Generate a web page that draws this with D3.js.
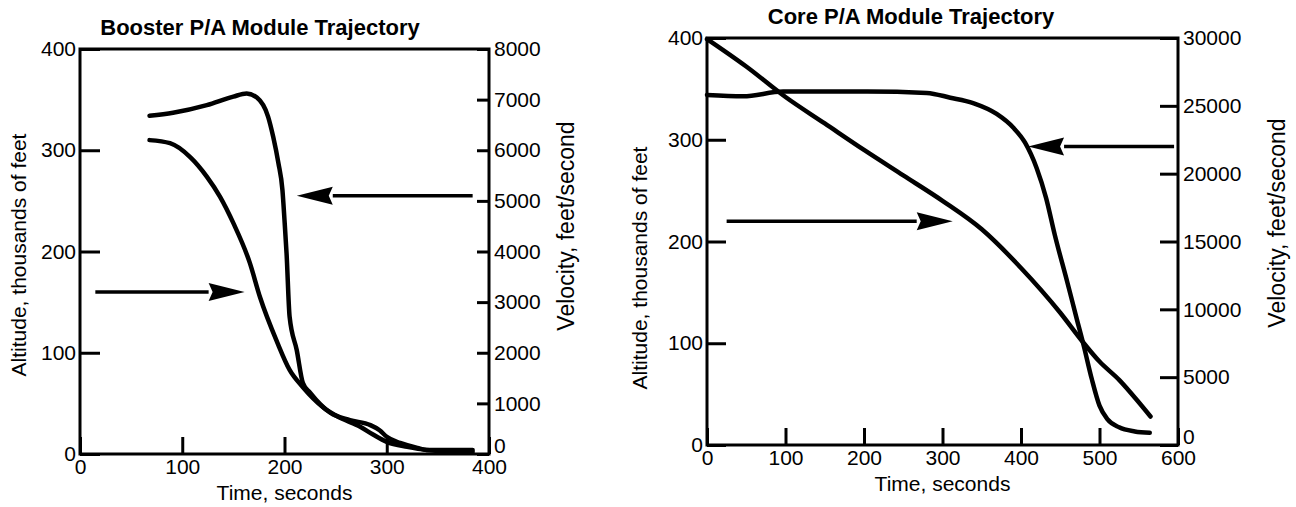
<!DOCTYPE html>
<html>
<head>
<meta charset="utf-8">
<script src="https://cdn.jsdelivr.net/npm/d3@7"></script>
<style>
  body { margin: 0; background: #fff; }
  svg text { font-family: "Liberation Sans", Arial, Helvetica, sans-serif; fill: #000; }
</style>
</head>
<body>
<div id="viz"></div>
<script>
// Booster P/A module (left panel)
const boosterAltTime = [68, 88, 108, 124, 137, 150, 166, 176, 193, 205, 218, 238, 254, 274, 287, 300, 320, 339, 384];
const boosterAltitude = [310, 307, 293, 274, 254, 228, 189, 155, 110, 83, 66, 46, 36, 27, 19, 12, 7, 4, 2];
const boosterVelTime = [68, 91, 124, 150, 163, 173, 184, 189, 194, 198, 200, 202, 205, 212, 218, 225, 245, 264, 284, 293, 300, 313, 330, 339, 384];
const boosterVelocity = [6680, 6740, 6890, 7060, 7120, 7040, 6660, 6260, 5750, 5210, 4620, 3970, 2710, 2050, 1400, 1210, 810, 670, 570, 470, 340, 220, 120, 80, 80];

// Core P/A module (right panel)
const coreAltTime = [0, 50, 100, 150, 200, 250, 300, 350, 400, 450, 478, 500, 525, 550, 565];
const coreAltitude = [399, 372, 342, 316, 290, 265, 240, 212, 174, 130, 102, 82, 64, 42, 28];
const coreVelTime = [0, 46, 97, 204, 280, 310, 339, 369, 390, 405, 420, 432, 443, 459, 471, 480, 490, 500, 510, 525, 545, 564];
const coreVelocity = [25800, 25700, 26050, 26050, 25950, 25600, 25200, 24400, 23400, 22300, 20400, 18200, 15500, 12000, 9300, 7300, 4900, 2900, 1900, 1300, 1000, 900];

// tick values
const boosterTimeTicks = [0, 100, 200, 300, 400];
const boosterAltTicks = [0, 100, 200, 300, 400];
const boosterVelTicks = [0, 1000, 2000, 3000, 4000, 5000, 6000, 7000, 8000];
const coreTimeTicks = [0, 100, 200, 300, 400, 500, 600];
const coreAltTicks = [0, 100, 200, 300, 400];
const coreVelTicks = [0, 5000, 10000, 15000, 20000, 25000, 30000];

// arrows: [time from, time to, value, axis]
const boosterArrows = [[15, 161, 160, 'alt'], [384, 212, 5100, 'vel']];
const coreArrows = [[25, 313, 220, 'alt'], [595, 409, 22000, 'vel']];

const width = 1296;
const height = 507;

const svg = d3.select('#viz')
    .append('svg')
    .attr('width', width)
    .attr('height', height);

function buildChart(p) {
    const x = d3.scaleLinear().domain(p.xDomain).range([p.left, p.right]);
    const yAlt = d3.scaleLinear().domain([0, 400]).range([p.bottom, p.top]);
    const yVel = d3.scaleLinear().domain(p.velDomain).range([p.bottom, p.top]);
    const fmt = d3.format('d');

    const g = svg.append('g');

    // frame
    g.append('rect')
        .attr('x', p.left)
        .attr('y', p.top)
        .attr('width', p.right - p.left)
        .attr('height', p.bottom - p.top)
        .attr('fill', 'none')
        .attr('stroke', '#000')
        .attr('stroke-width', 3);

    const styleAxis = sel => {
        sel.select('.domain').remove();
        sel.selectAll('.tick line').attr('stroke', '#000').attr('stroke-width', 3);
        sel.selectAll('.tick text').style('font-size', '21px').attr('fill', '#000');
    };

    g.append('g')
        .attr('transform', `translate(0,${p.bottom})`)
        .call(d3.axisBottom(x).tickValues(p.xTicks).tickFormat(fmt).tickSizeInner(-17).tickSizeOuter(0).tickPadding(5))
        .call(styleAxis);

    g.append('g')
        .attr('transform', `translate(${p.left},0)`)
        .call(d3.axisLeft(yAlt).tickValues(p.altTicks).tickFormat(fmt).tickSizeInner(-p.leftTick).tickSizeOuter(0).tickPadding(4))
        .call(styleAxis);

    const rightAxis = g.append('g')
        .attr('transform', `translate(${p.right},0)`)
        .call(d3.axisRight(yVel).tickValues(p.velTicks).tickFormat(fmt).tickSizeInner(-p.rightTick).tickSizeOuter(0).tickPadding(5))
        .call(styleAxis);
    // lift the bottom "0" so it clears the time labels
    rightAxis.selectAll('.tick text').filter(d => d === 0).attr('y', -8);

    // titles
    g.append('text')
        .attr('x', p.titleX)
        .attr('y', p.titleY)
        .attr('text-anchor', 'middle')
        .style('font-size', '22px')
        .style('font-weight', 'bold')
        .text(p.title);

    g.append('text')
        .attr('x', (p.left + p.right) / 2)
        .attr('y', p.bottom + 46)
        .attr('text-anchor', 'middle')
        .style('font-size', '21px')
        .text('Time, seconds');

    g.append('text')
        .attr('transform', `translate(${p.altLabelX},${p.altLabelY}) rotate(-90)`)
        .attr('text-anchor', 'middle')
        .attr('dy', '0.35em')
        .style('font-size', '21px')
        .text('Altitude, thousands of feet');

    g.append('text')
        .attr('transform', `translate(${p.velLabelX},${p.velLabelY}) rotate(-90)`)
        .attr('text-anchor', 'middle')
        .attr('dy', '0.35em')
        .style('font-size', '23px')
        .text('Velocity, feet/second');

    // curves
    const altLine = d3.line()
        .x(d => x(d[0]))
        .y(d => yAlt(d[1]))
        .curve(d3.curveMonotoneX);
    const velLine = d3.line()
        .x(d => x(d[0]))
        .y(d => yVel(d[1]))
        .curve(d3.curveMonotoneX);

    g.append('path')
        .datum(d3.zip(p.altTime, p.altitude))
        .attr('fill', 'none')
        .attr('stroke', '#000')
        .attr('stroke-width', 4.5)
        .attr('stroke-linecap', 'round')
        .attr('d', altLine);

    g.append('path')
        .datum(d3.zip(p.velTime, p.velocity))
        .attr('fill', 'none')
        .attr('stroke', '#000')
        .attr('stroke-width', 4.5)
        .attr('stroke-linecap', 'round')
        .attr('d', velLine);

    // arrows
    p.arrows.forEach(a => {
        const yy = a[3] === 'alt' ? yAlt(a[2]) : yVel(a[2]);
        const x0 = x(a[0]);
        const x1 = x(a[1]);
        const dir = x1 > x0 ? 1 : -1;
        const headLen = 36;
        const half = 9;
        g.append('line')
            .attr('x1', x0)
            .attr('x2', x1 - dir * headLen)
            .attr('y1', yy)
            .attr('y2', yy)
            .attr('stroke', '#000')
            .attr('stroke-width', 3.5);
        g.append('path')
            .attr('d', `M${x1},${yy} L${x1 - dir * headLen},${yy - half} L${x1 - dir * (headLen - 4)},${yy} L${x1 - dir * headLen},${yy + half} Z`)
            .attr('fill', '#000');
    });
}

buildChart({
    left: 80, right: 489, top: 49, bottom: 454,
    xDomain: [0, 400], velDomain: [0, 8000],
    xTicks: boosterTimeTicks, altTicks: boosterAltTicks, velTicks: boosterVelTicks,
    leftTick: 20, rightTick: 12,
    title: 'Booster P/A Module Trajectory', titleX: 260, titleY: 35,
    altLabelX: 19, altLabelY: 255, velLabelX: 566, velLabelY: 226,
    altTime: boosterAltTime, altitude: boosterAltitude,
    velTime: boosterVelTime, velocity: boosterVelocity,
    arrows: boosterArrows
});

buildChart({
    left: 707, right: 1178, top: 38, bottom: 445,
    xDomain: [0, 600], velDomain: [0, 30000],
    xTicks: coreTimeTicks, altTicks: coreAltTicks, velTicks: coreVelTicks,
    leftTick: 19, rightTick: 18,
    title: 'Core P/A Module Trajectory', titleX: 911, titleY: 24,
    altLabelX: 640, altLabelY: 268, velLabelX: 1277, velLabelY: 223,
    altTime: coreAltTime, altitude: coreAltitude,
    velTime: coreVelTime, velocity: coreVelocity,
    arrows: coreArrows
});
</script>
</body>
</html>
